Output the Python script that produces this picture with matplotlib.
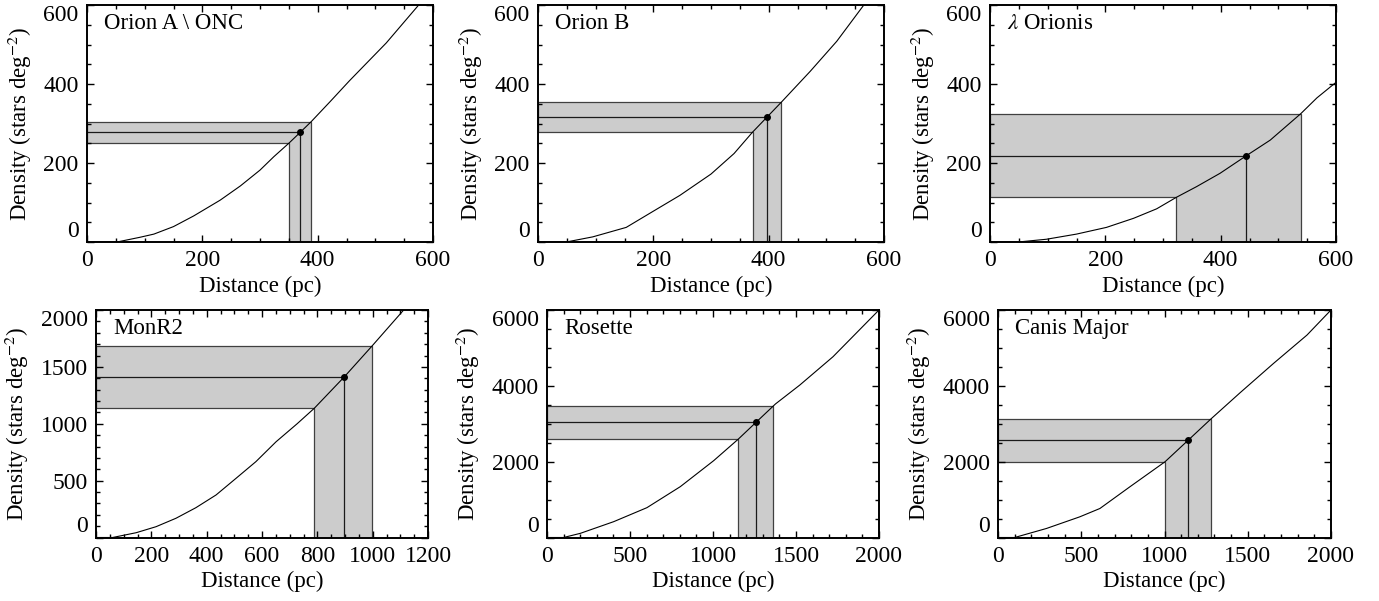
import numpy as np
import matplotlib
matplotlib.use("Agg")
import matplotlib.pyplot as plt
from matplotlib.ticker import MultipleLocator

plt.rcParams['font.family'] = ['Liberation Serif', 'DejaVu Serif']
plt.rcParams['mathtext.fontset'] = 'stix'

# names of the clouds
names = ['Orion A \\ ONC', 'Orion B', r'$\lambda$ Orionis', 'MonR2', 'Rosette', 'Canis Major']

# density vs distance curves
orionA_d = [0, 52, 92, 116, 150, 185, 231, 266, 300, 324, 350, 370, 389, 422, 455, 519, 574, 600]
orionA_n = [0, 0, 12, 20, 39, 66, 106, 142, 182, 216, 250, 278, 305, 356, 408, 504, 598, 640]
orionB_d = [0, 49, 95, 153, 200, 246, 300, 340, 372, 397, 422, 472, 518, 564, 600]
orionB_n = [0, 0, 13, 37, 78, 118, 172, 224, 278, 316, 354, 432, 508, 598, 660]
lamOri_d = [0, 49, 98, 150, 202, 249, 289, 323, 358, 399, 444, 486, 539, 567, 599]
lamOri_n = [0, 0, 7, 20, 37, 60, 84, 113, 140, 174, 218, 258, 325, 365, 403]
monR2_d = [0, 60, 145, 217, 289, 361, 434, 506, 578, 651, 727, 789, 897, 999, 1112, 1200]
monR2_n = [0, 0, 42, 95, 169, 262, 374, 520, 667, 842, 1000, 1136, 1411, 1687, 2000, 2240]
rosette_d = [0, 100, 201, 402, 602, 803, 1004, 1151, 1259, 1376, 1523, 1723, 2000]
rosette_n = [0, 0, 110, 418, 787, 1341, 2026, 2589, 3037, 3521, 4021, 4768, 6000]
cma_d = [0, 100, 291, 491, 612, 792, 1003, 1143, 1278, 1454, 1655, 1856, 2000]
cma_n = [0, 0, 238, 545, 765, 1337, 1997, 2569, 3123, 3818, 4592, 5340, 6000]

# best distance with its range, and density with its range
dist_best = [370, 397, 444, 897, 1259, 1143]
dist_lo = [350, 372, 323, 789, 1151, 1003]
dist_hi = [389, 422, 539, 999, 1363, 1278]
dens_best = [278, 316, 218, 1411, 3037, 2569]
dens_lo = [250, 278, 113, 1136, 2589, 1997]
dens_hi = [305, 354, 325, 1687, 3466, 3123]

curves = [(orionA_d, orionA_n), (orionB_d, orionB_n), (lamOri_d, lamOri_n),
          (monR2_d, monR2_n), (rosette_d, rosette_n), (cma_d, cma_n)]

xlims = [600, 600, 600, 1200, 2000, 2000]
ylims = [600, 600, 600, 2000, 6000, 6000]
xmaj = [200, 200, 200, 200, 500, 500]
xmin = [50, 50, 50, 50, 100, 100]
ymaj = [200, 200, 200, 500, 2000, 2000]
ymin = [50, 50, 50, 100, 500, 500]

W, H = 1379, 601
# axes boxes in pixels: left, top, right, bottom
boxes = [(87, 5, 433, 242), (538, 5, 884, 242), (990, 5, 1336, 242),
         (96, 310, 428, 537.5), (547, 310, 879, 537.5), (998, 310, 1331, 537.5)]

fig = plt.figure(figsize=(W / 100, H / 100), dpi=100)
axes = []

for i in range(6):
    l, t, r, b = boxes[i]
    ax = fig.add_axes([l / W, (H - b) / H, (r - l) / W, (b - t) / H])
    axes.append(ax)
    d, n = curves[i]

    # shaded L-shaped region
    px = [0, dist_lo[i], dist_lo[i], dist_hi[i], dist_hi[i], 0]
    py = [dens_lo[i], dens_lo[i], 0, 0, dens_hi[i], dens_hi[i]]
    ax.fill(px, py, facecolor='#cccccc', edgecolor='0.25', lw=0.9, zorder=1)
    ax.plot([0, dist_best[i], dist_best[i]], [dens_best[i], dens_best[i], 0],
            color='0.1', lw=0.9, zorder=2)

    ax.plot(d, n, color='black', lw=0.8, zorder=3)
    ax.plot(dist_best[i], dens_best[i], 'o', color='black', ms=4, zorder=4)

    ax.set_xlim(0, xlims[i])
    ax.set_ylim(0, ylims[i])
    ax.xaxis.set_major_locator(MultipleLocator(xmaj[i]))
    ax.xaxis.set_minor_locator(MultipleLocator(xmin[i]))
    ax.yaxis.set_major_locator(MultipleLocator(ymaj[i]))
    ax.yaxis.set_minor_locator(MultipleLocator(ymin[i]))
    ax.tick_params(which='both', direction='in', top=True, right=True,
                   labelsize=17, width=1.0)
    ax.tick_params(which='major', length=5)
    ax.tick_params(which='minor', length=3)
    ax.tick_params(axis='x', which='major', pad=6)
    ax.tick_params(axis='y', which='major', pad=6)
    for s in ax.spines.values():
        s.set_linewidth(1.4)

    ax.set_xlabel('Distance (pc)', fontsize=16.5, labelpad=3)
    ax.set_ylabel(r'Density (stars deg$^{-2}$)', fontsize=16.5, labelpad=7)

    ax.annotate(names[i], xy=(0, 1), xycoords='axes fraction',
                xytext=(12.5, -17.5), textcoords='offset points',
                ha='left', va='baseline', fontsize=16.5)

fig.canvas.draw()
for i, ax in enumerate(axes):
    # keep the end labels inside the axis range
    for tick in ax.yaxis.get_major_ticks():
        loc = tick.get_loc()
        if abs(loc) < 1e-9:
            tick.label1.set_va('bottom')
        elif abs(loc - ylims[i]) < 1e-9:
            tick.label1.set_va('top')

fig.savefig('out.png', dpi=100)
